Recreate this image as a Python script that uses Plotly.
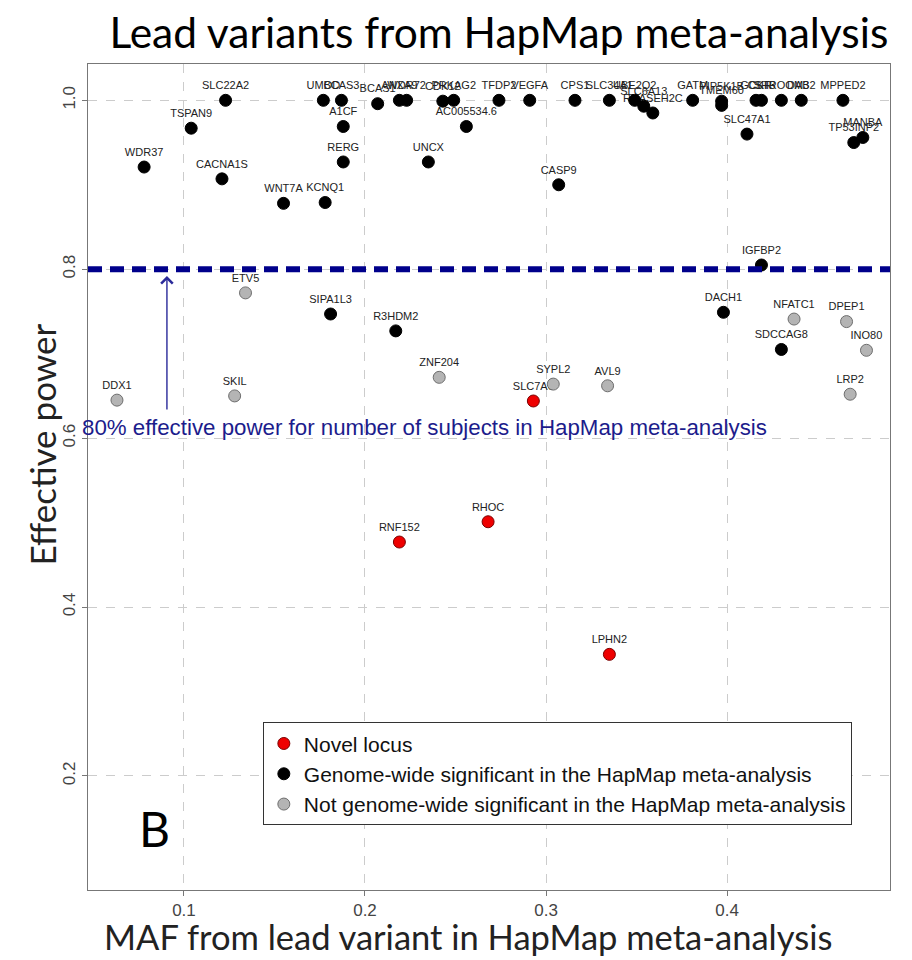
import plotly.graph_objects as go

# ---- data ----
novel_genes = ["SLC7A6", "RHOC", "RNF152", "LPHN2"]
novel_maf = [0.293, 0.268, 0.219, 0.335]
novel_power = [0.644, 0.501, 0.477, 0.344]

sig_genes = ["SLC22A2", "TSPAN9", "WDR37", "CACNA1S", "WNT7A", "KCNQ1", "RERG", "A1CF",
             "UMOD", "BCAS3", "BCAS1", "ANXA9", "WDR72", "CDK12", "PRKAG2", "TFDP2", "VEGFA",
             "AC005534.6", "UNCX", "CASP9", "CPS1", "SLC34A1", "UBE2Q2", "SLC6A13", "RNASEH2C",
             "GATM", "PIP5K1B", "TMEM60", "GCKR", "CST3", "SHROOM3", "DAB2", "MPPED2",
             "SLC47A1", "MANBA", "TP53INP2", "IGFBP2", "DACH1", "SDCCAG8", "SIPA1L3", "R3HDM2"]
sig_maf = [0.123, 0.104, 0.078, 0.121, 0.155, 0.178, 0.188, 0.188,
           0.177, 0.187, 0.207, 0.219, 0.223, 0.243, 0.249, 0.274, 0.291,
           0.256, 0.235, 0.307, 0.316, 0.335, 0.349, 0.354, 0.359,
           0.381, 0.397, 0.397, 0.416, 0.419, 0.430, 0.441, 0.464,
           0.411, 0.475, 0.470, 0.419, 0.398, 0.430, 0.181, 0.217]
sig_power = [1.0, 0.967, 0.921, 0.907, 0.878, 0.879, 0.927, 0.969,
             1.0, 1.0, 0.996, 1.0, 1.0, 0.999, 1.0, 1.0, 1.0,
             0.969, 0.927, 0.900, 1.0, 1.0, 1.0, 0.993, 0.985,
             1.0, 0.999, 0.994, 1.0, 1.0, 1.0, 1.0, 1.0,
             0.960, 0.956, 0.950, 0.805, 0.749, 0.705, 0.747, 0.727]

nonsig_genes = ["ETV5", "DDX1", "SKIL", "ZNF204", "SYPL2", "AVL9", "NFATC1", "DPEP1", "INO80", "LRP2"]
nonsig_maf = [0.134, 0.063, 0.128, 0.241, 0.304, 0.334, 0.437, 0.466, 0.477, 0.468]
nonsig_power = [0.772, 0.645, 0.650, 0.672, 0.664, 0.662, 0.741, 0.738, 0.704, 0.652]

threshold = 0.8
legend_names = ["Novel locus",
                "Genome-wide significant in the HapMap meta-analysis",
                "Not genome-wide significant in the HapMap meta-analysis"]
x_ticks = [0.1, 0.2, 0.3, 0.4]
y_ticks = [0.2, 0.4, 0.6, 0.8, 1.0]

NAVY = "#00008B"
ARIAL = "Liberation Sans, Arial, sans-serif"
LABEL_FONT = dict(family=ARIAL, size=11, color="#222222")

fig = go.Figure()

groups = [
    (novel_genes, novel_maf, novel_power, "#ee0000", "#7a0000", legend_names[0]),
    (sig_genes, sig_maf, sig_power, "#000000", "#000000", legend_names[1]),
    (nonsig_genes, nonsig_maf, nonsig_power, "#b4b4b4", "#6e6e6e", legend_names[2]),
]

# labels (invisible markers keep the text offset)
for genes, maf, pw, fill, edge, name in groups:
    fig.add_trace(go.Scatter(
        x=maf, y=pw, text=genes, mode="markers+text", textposition="top center",
        textfont=LABEL_FONT, marker=dict(size=12, color="rgba(0,0,0,0)"),
        showlegend=False, hoverinfo="skip"))

for genes, maf, pw, fill, edge, name in groups:
    fig.add_trace(go.Scatter(
        x=maf, y=pw, mode="markers", name=name, text=genes,
        marker=dict(size=12, color=fill, line=dict(color=edge, width=1))))

fig.add_shape(type="line", xref="paper", x0=0, x1=1, yref="y", y0=threshold, y1=threshold,
              line=dict(color=NAVY, width=6, dash="14px,8px"), layer="above")

fig.add_annotation(x=0.0906, y=0.792, ax=0.0906, ay=0.632, xref="x", yref="y",
                   axref="x", ayref="y", showarrow=True, arrowhead=4, arrowsize=1.6,
                   arrowwidth=1.4, arrowcolor="#2a2a9a", text="")
fig.add_annotation(x=-0.01, y=0.613, xref="paper", yref="y", xanchor="left", yanchor="middle",
                   text="80% effective power for number of subjects in HapMap meta-analysis",
                   showarrow=False,
                   font=dict(family=ARIAL, size=22.3, color="#1c1c8c"))

fig.add_annotation(x=0.0835, y=0.075, xref="paper", yref="paper", text="B", showarrow=False,
                   xanchor="center", yanchor="middle",
                   font=dict(family="Lato, sans-serif", size=48, color="#000000"))

fig.add_annotation(x=0.474, y=-0.0565, xref="paper", yref="paper", showarrow=False,
                   text="MAF from lead variant in HapMap meta-analysis",
                   xanchor="center", yanchor="middle",
                   font=dict(family="Lato, sans-serif", size=34.5, color="#222222"))
fig.add_annotation(x=-0.058, y=0.54, xref="paper", yref="paper", showarrow=False,
                   text="Effective power", textangle=-90,
                   xanchor="center", yanchor="middle",
                   font=dict(family="Lato, sans-serif", size=35, color="#222222"))

axis_common = dict(showline=True, mirror=True, linecolor="#777777", linewidth=1,
                   showgrid=True, gridcolor="#cccccc", griddash="dash", gridwidth=1,
                   zeroline=False, ticks="outside", ticklen=5, tickcolor="#777777",
                   tickfont=dict(family=ARIAL, size=17, color="#444444"))

fig.update_layout(
    width=912, height=960,
    margin=dict(l=88, r=22, t=64, b=70),
    paper_bgcolor="white", plot_bgcolor="white",
    title=dict(text="Lead variants from HapMap meta-analysis", x=0.547, xanchor="center",
               y=0.965, yanchor="middle",
               font=dict(family="Lato, sans-serif", size=42.5, color="#000000")),
    xaxis=dict(range=[0.047, 0.49], tickvals=x_ticks, ticktext=[f"{v:.1f}" for v in x_ticks],
               **axis_common),
    yaxis=dict(range=[0.065, 1.043], tickvals=y_ticks, ticktext=[f"{v:.1f}" for v in y_ticks],
               tickangle=-90, **axis_common),
    legend=dict(x=0.218, y=0.203, xanchor="left", yanchor="top", bgcolor="white",
                bordercolor="#333333", borderwidth=1, tracegroupgap=0,
                font=dict(family=ARIAL, size=21, color="#111111")),
    showlegend=True,
)

fig.write_html("out.html")
